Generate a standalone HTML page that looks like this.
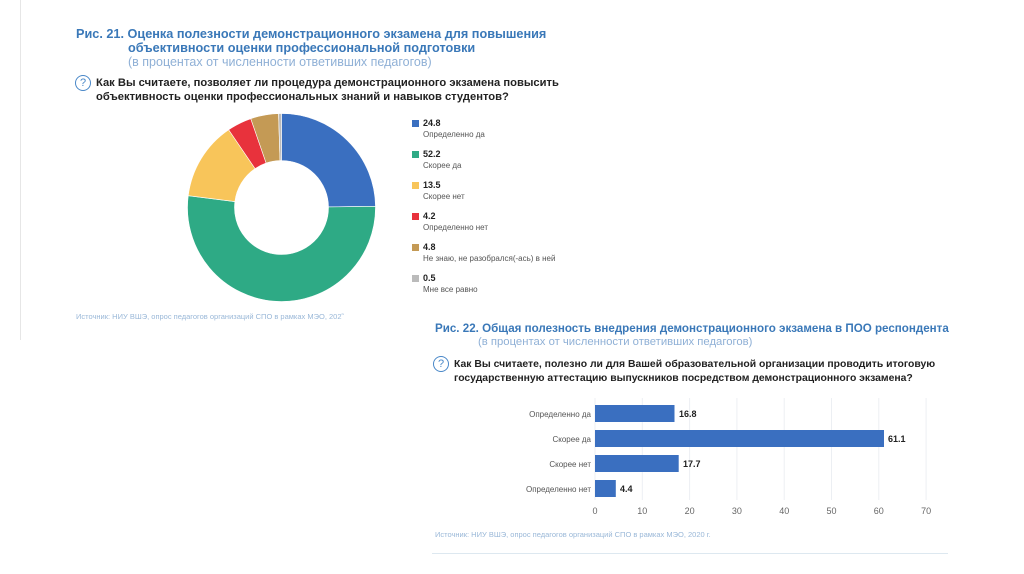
<!DOCTYPE html>
<html><head><meta charset="utf-8"><style>
body{margin:0;width:1024px;height:574px;background:#fff;position:relative;overflow:hidden;font-family:"Liberation Sans","DejaVu Sans",sans-serif}
.a{position:absolute;white-space:nowrap}
.t{color:#3a78b8;font-weight:bold;font-size:12.7px}
.s{color:#8fb0d6;font-size:12.5px}
.q{color:#222;font-weight:bold;font-size:11.2px}
.t2{color:#3a78b8;font-weight:bold;font-size:11.6px}
.s2{color:#8fb0d6;font-size:11.3px}
.q2{color:#222;font-weight:bold;font-size:10.4px}
.lv{font-weight:bold;font-size:9px;color:#222}
.ll{font-size:8px;color:#555}
.sq{position:absolute;width:7px;height:7px}
.src{color:#9ab8d8;font-size:7.5px}
.qi{position:absolute;width:14px;height:14px;border:1.5px solid #4a88c8;border-radius:50%;color:#4a88c8;font-size:11px;text-align:center;line-height:14px}
</style></head><body>
<div class="a" style="left:20px;top:0;width:1px;height:340px;background:#e6e6e6"></div>
<div class="a t" style="left:76px;top:27px">Рис. 21. Оценка полезности демонстрационного экзамена для повышения</div>
<div class="a t" style="left:128px;top:41px">объективности оценки профессиональной подготовки</div>
<div class="a s" style="left:128px;top:55px">(в процентах от численности ответивших педагогов)</div>
<div class="qi" style="left:75px;top:75px">?</div>
<div class="a q" style="left:96px;top:77px">Как Вы считаете, позволяет ли процедура демонстрационного экзамена повысить</div>
<div class="a q" style="left:96px;top:91px">объективность оценки профессиональных знаний и навыков студентов?</div>
<svg id="d" class="a" style="left:0;top:0" width="600" height="340"></svg>
<div class="sq" style="left:412px;top:120px;background:#3a6fc0"></div><div class="a lv" style="left:423px;top:118px">24.8</div><div class="a ll" style="left:423px;top:130px">Определенно да</div>
<div class="sq" style="left:412px;top:151px;background:#2eaa85"></div><div class="a lv" style="left:423px;top:149px">52.2</div><div class="a ll" style="left:423px;top:161px">Скорее да</div>
<div class="sq" style="left:412px;top:182px;background:#f8c55a"></div><div class="a lv" style="left:423px;top:180px">13.5</div><div class="a ll" style="left:423px;top:192px">Скорее нет</div>
<div class="sq" style="left:412px;top:213px;background:#e8323c"></div><div class="a lv" style="left:423px;top:211px">4.2</div><div class="a ll" style="left:423px;top:223px">Определенно нет</div>
<div class="sq" style="left:412px;top:244px;background:#c49a55"></div><div class="a lv" style="left:423px;top:242px">4.8</div><div class="a ll" style="left:423px;top:254px">Не знаю, не разобрался(-ась) в ней</div>
<div class="sq" style="left:412px;top:275px;background:#bbb"></div><div class="a lv" style="left:423px;top:273px">0.5</div><div class="a ll" style="left:423px;top:285px">Мне все равно</div>
<div class="a src" style="left:76px;top:312px">Источник: НИУ ВШЭ, опрос педагогов организаций СПО в рамках МЭО, 202˜</div>

<div class="a t2" style="left:435px;top:322px">Рис. 22. Общая полезность внедрения демонстрационного экзамена в ПОО респондента</div>
<div class="a s2" style="left:478px;top:336px">(в процентах от численности ответивших педагогов)</div>
<div class="qi" style="left:433px;top:356px">?</div>
<div class="a q2" style="left:454px;top:359px">Как Вы считаете, полезно ли для Вашей образовательной организации проводить итоговую</div>
<div class="a q2" style="left:454px;top:373px">государственную аттестацию выпускников посредством демонстрационного экзамена?</div>
<svg class="a" style="left:420px;top:390px" width="560" height="130">
<g stroke="#eceff3" stroke-width="1">
<line x1="175" y1="8" x2="175" y2="110"/><line x1="222.3" y1="8" x2="222.3" y2="110"/><line x1="269.6" y1="8" x2="269.6" y2="110"/><line x1="316.9" y1="8" x2="316.9" y2="110"/><line x1="364.2" y1="8" x2="364.2" y2="110"/><line x1="411.5" y1="8" x2="411.5" y2="110"/><line x1="458.8" y1="8" x2="458.8" y2="110"/><line x1="506.1" y1="8" x2="506.1" y2="110"/>
</g>
<g fill="#3a6fc0">
<rect x="175" y="15" width="79.5" height="17"/>
<rect x="175" y="40" width="289" height="17"/>
<rect x="175" y="65" width="83.7" height="17"/>
<rect x="175" y="90" width="20.8" height="17"/>
</g>
<g font-size="9" font-weight="bold" fill="#222" font-family="Liberation Sans,sans-serif">
<text x="259" y="27">16.8</text><text x="468" y="52">61.1</text><text x="263" y="77">17.7</text><text x="200" y="102">4.4</text>
</g>
<g font-size="8" fill="#555" text-anchor="end" font-family="Liberation Sans,sans-serif">
<text x="171" y="27">Определенно да</text><text x="171" y="52">Скорее да</text><text x="171" y="77">Скорее нет</text><text x="171" y="102">Определенно нет</text>
</g>
<g font-size="9" fill="#666" text-anchor="middle" font-family="Liberation Sans,sans-serif">
<text x="175" y="124">0</text><text x="222.3" y="124">10</text><text x="269.6" y="124">20</text><text x="316.9" y="124">30</text><text x="364.2" y="124">40</text><text x="411.5" y="124">50</text><text x="458.8" y="124">60</text><text x="506.1" y="124">70</text>
</g>
</svg>
<div class="a src" style="left:435px;top:530px">Источник: НИУ ВШЭ, опрос педагогов организаций СПО в рамках МЭО, 2020 г.</div>
<div class="a" style="left:432px;top:553px;width:516px;height:1px;background:#dde8f0"></div>
<script>
var v=[24.8,52.2,13.5,4.2,4.8,0.5],c=["#3a6fc0","#2eaa85","#f8c55a","#e8323c","#c49a55","#bbb"];
var cx=281.5,cy=207.5,R=94,r=47,a=0,s="";
function p(rad,an){return [cx+rad*Math.sin(an),cy-rad*Math.cos(an)];}
for(var i=0;i<v.length;i++){var a2=a+v[i]/100*2*Math.PI,l=(a2-a)>Math.PI?1:0;
var p1=p(R,a),p2=p(R,a2),p3=p(r,a2),p4=p(r,a);
s+='<path fill="'+c[i]+'" stroke="#fff" stroke-width="0.6" d="M'+p1+'A'+R+','+R+' 0 '+l+' 1 '+p2+'L'+p3+'A'+r+','+r+' 0 '+l+' 0 '+p4+'Z"/>';a=a2;}
document.getElementById('d').innerHTML=s;
</script>
</body></html>
